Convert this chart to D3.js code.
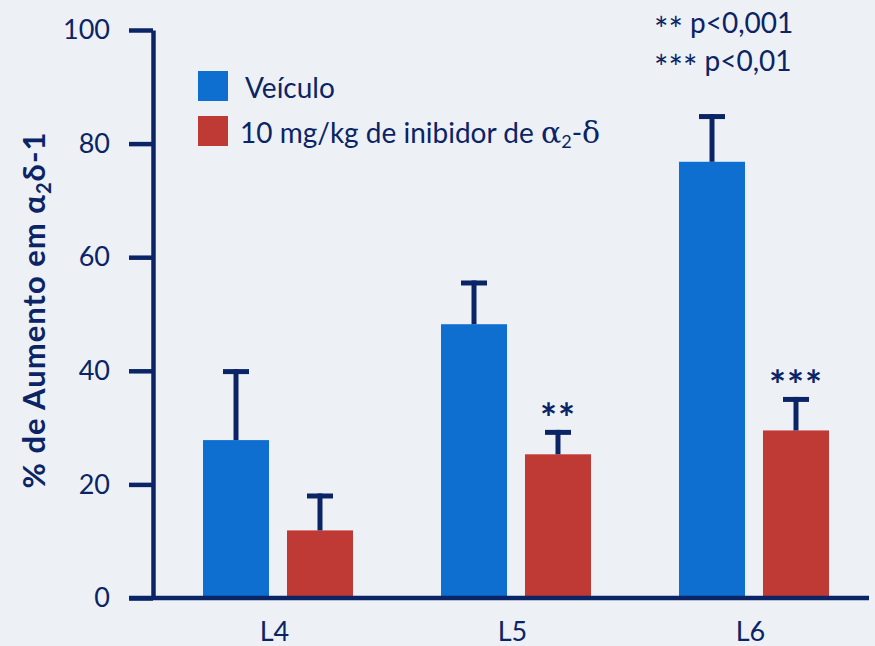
<!DOCTYPE html>
<html>
<head>
<meta charset="UTF-8">
<title>Aumento em α2δ-1</title>
<script src="https://d3js.org/d3.v7.min.js"></script>
<style>
  body { margin: 0; background: #edf1f6; }
  svg { display: block; font-family: Lato, "Open Sans", sans-serif; }
</style>
</head>
<body>
<svg id="mainsvg" width="875" height="646"></svg>
<script>
// data
const levels = ['L4', 'L5', 'L6'];
const series = ['Veículo', 'Inibidor'];
const vehicleMean = [27.8, 48.2, 76.8];
const vehicleErr = [40.3, 55.9, 85.2];
const inhibMean = [11.9, 25.3, 29.5];
const inhibErr = [18.4, 29.6, 35.4];
const stars = ['', '**', '***'];
const yTicks = [0, 20, 40, 60, 80, 100];

const navy = '#0b2466';
const colors = { 'Veículo': '#0e6fd0', 'Inibidor': '#bf3a34' };

const svg = d3.select('#mainsvg');

const y = d3.scaleLinear().domain([0, 100]).range([598, 30]);
const x0 = d3.scalePoint().domain(levels).range([278, 754]);
const x1 = d3.scaleBand().domain(series).range([-75, 75]).paddingInner(0.214);

const rows = [];
levels.forEach((lv, i) => {
    rows.push({ level: lv, key: 'Veículo', mean: vehicleMean[i], err: vehicleErr[i], star: '' });
    rows.push({ level: lv, key: 'Inibidor', mean: inhibMean[i], err: inhibErr[i], star: stars[i] });
});
const cx = d => x0(d.level) + x1(d.key) + x1.bandwidth() / 2;

// bars
svg.append('g').selectAll('rect')
    .data(rows)
    .join('rect')
    .attr('x', d => x0(d.level) + x1(d.key))
    .attr('width', x1.bandwidth())
    .attr('y', d => y(d.mean))
    .attr('height', d => y(0) - y(d.mean))
    .attr('fill', d => colors[d.key]);

// error bars
const eb = svg.append('g').attr('stroke', navy).attr('stroke-width', 5);
eb.selectAll('.stem')
    .data(rows)
    .join('line')
    .attr('class', 'stem')
    .attr('x1', cx).attr('x2', cx)
    .attr('y1', d => y(d.mean))
    .attr('y2', d => y(d.err));
eb.selectAll('.cap')
    .data(rows)
    .join('line')
    .attr('class', 'cap')
    .attr('x1', d => cx(d) - 13)
    .attr('x2', d => cx(d) + 13)
    .attr('y1', d => y(d.err) + 2.5)
    .attr('y2', d => y(d.err) + 2.5);

// significance stars
svg.append('g').selectAll('text')
    .data(rows.filter(d => d.star))
    .join('text')
    .attr('x', d => cx(d))
    .attr('y', d => y(d.err) + 3)
    .attr('text-anchor', 'middle')
    .attr('fill', navy)
    .attr('font-size', 40)
    .attr('font-weight', 'bold')
    .attr('letter-spacing', 1)
    .text(d => d.star);

// y axis
const yAxis = d3.axisLeft(y).tickValues(yTicks).tickSize(24).tickSizeOuter(0).tickPadding(19);
const yg = svg.append('g').attr('transform', 'translate(153,0)').call(yAxis);
yg.selectAll('path, line').attr('stroke', navy).attr('stroke-width', 4.5);
yg.selectAll('text').attr('fill', navy).attr('font-size', 27).attr('font-family', 'Lato, sans-serif');

// x axis
svg.append('line')
    .attr('x1', 129).attr('x2', 869)
    .attr('y1', y(0)).attr('y2', y(0))
    .attr('stroke', navy).attr('stroke-width', 4.5);
const xg = svg.append('g').attr('transform', `translate(0,${y(0)})`)
    .call(d3.axisBottom(x0).tickSize(0).tickPadding(24));
xg.select('.domain').remove();
xg.selectAll('text').attr('fill', navy).attr('font-size', 27).attr('font-family', 'Lato, sans-serif')
    .attr('dx', -4);

// y axis title
const yt = svg.append('text')
    .attr('transform', 'translate(45,310) rotate(-90)')
    .attr('text-anchor', 'middle')
    .attr('fill', navy)
    .attr('font-weight', 'bold')
    .attr('font-size', 31)
    .attr('letter-spacing', 1);
yt.append('tspan').text('% de Aumento em α');
yt.append('tspan').attr('font-size', 20).attr('dy', 6).text('2');
yt.append('tspan').attr('dy', -6).text('δ-1');

// legend
const legend = svg.append('g');
const legendItems = [
    { key: 'Veículo', y: 71 },
    { key: 'Inibidor', y: 116 }
];
legend.selectAll('rect')
    .data(legendItems)
    .join('rect')
    .attr('x', 198).attr('y', d => d.y)
    .attr('width', 30).attr('height', 30)
    .attr('fill', d => colors[d.key]);
legend.append('text')
    .attr('x', 245).attr('y', 98)
    .attr('fill', navy).attr('font-size', 28)
    .text('Veículo');
const lt = legend.append('text')
    .attr('x', 240).attr('y', 143)
    .attr('fill', navy).attr('font-size', 28);
lt.append('tspan').text('10 mg/kg de inibidor de ');
lt.append('tspan').attr('font-family', '"DejaVu Serif", serif').attr('font-size', 30).text('α');
lt.append('tspan').attr('font-size', 18).attr('dy', 5).text('2');
lt.append('tspan').attr('dy', -5).text('-');
lt.append('tspan').attr('font-family', '"DejaVu Serif", serif').attr('font-size', 30).text('δ');

// p-value note
const note = svg.append('g').attr('fill', navy).attr('font-size', 28);
const n1 = note.append('text').attr('x', 654).attr('y', 33);
n1.append('tspan').attr('font-size', 34).attr('dy', 9).text('**');
n1.append('tspan').attr('dy', -9).text(' p<0,001');
const n2 = note.append('text').attr('x', 654).attr('y', 71);
n2.append('tspan').attr('font-size', 34).attr('dy', 9).text('***');
n2.append('tspan').attr('dy', -9).text(' p<0,01');
</script>
</body>
</html>
